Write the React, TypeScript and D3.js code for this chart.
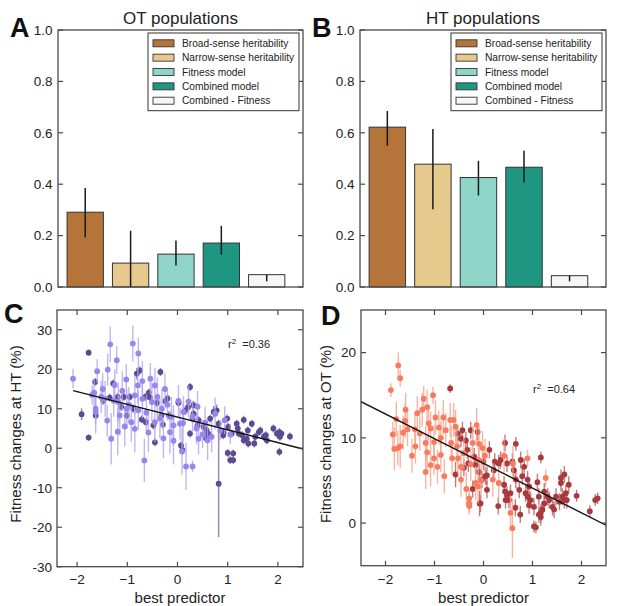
import { scaleLinear, line } from 'd3'

// bar panels (A, B)
const barLabels = ['Broad-sense heritability', 'Narrow-sense heritability', 'Fitness model', 'Combined model', 'Combined - Fitness']
const barColors = ['#b4743a', '#e6c98c', '#8fd6c8', '#1f9682', '#f6f6f6']
const barTicks = [0, 0.2, 0.4, 0.6, 0.8, 1.0]

const otValues = [0.291, 0.093, 0.128, 0.171, 0.048]
const otLow = [0.194, 0.0, 0.084, 0.126, 0.022]
const otHigh = [0.385, 0.219, 0.181, 0.238, 0.048]

const htValues = [0.622, 0.478, 0.426, 0.466, 0.044]
const htLow = [0.549, 0.303, 0.356, 0.407, 0.022]
const htHigh = [0.685, 0.615, 0.491, 0.530, 0.044]

// scatter panels (C, D): [best predictor, fitness change, error]
const cLight: [number, number, number][] = [
  [-2.08, 17.6, 2.5], [-1.60, 19.5, 3.0], [-1.66, 14.1, 3.5], [-1.63, 9.2, 5.5], [-1.63, 10.0, 4.0],
  [-1.21, 22.3, 3.5], [-1.34, 26.3, 4.5], [-1.39, 19.9, 4.0], [-1.32, 2.4, 6.5], [-1.19, 4.2, 6.0],
  [-1.02, 17.4, 4.0], [-0.89, 26.5, 4.5], [-0.78, 24.0, 4.0], [-0.79, 15.9, 4.5], [-0.85, 13.4, 5.0],
  [-1.15, 8.3, 5.0], [-0.92, 6.6, 5.0], [-1.18, 11.7, 5.0], [-1.44, 12.5, 4.5], [-1.52, 13.0, 4.0],
  [-0.66, -3.1, 5.5], [-0.85, 4.9, 6.0], [-0.54, 17.6, 4.0], [-0.28, 2.5, 5.0], [-0.31, 10.0, 5.0],
  [-0.51, 11.7, 5.0], [-0.08, 1.9, 6.0], [-0.08, 5.8, 5.0], [-0.15, 4.1, 5.5], [0.09, -0.8, 6.0],
  [-0.45, 15.9, 4.5], [-0.78, 9.6, 5.0], [-1.01, 10.0, 5.0], [-0.45, 6.6, 5.0], [0.12, 9.2, 4.0],
  [0.05, 6.2, 4.0], [0.11, 6.4, 5.0], [0.17, -4.6, 6.0], [0.30, -4.6, 1.5], [0.42, 2.4, 4.0],
  [0.75, 8.75, 4.0], [0.94, 7.1, 3.5], [0.68, 2.9, 4.0], [0.50, 3.5, 3.5], [0.60, 2.0, 5.0],
  [0.38, 5.0, 4.0], [-1.49, 15.0, 4.0], [-1.27, 12.0, 4.0], [-1.10, 14.5, 5.0], [-0.97, 11.0, 4.5],
  [-0.70, 12.5, 5.0], [-0.62, 9.0, 4.5], [-0.40, 13.0, 5.0], [-0.20, 11.0, 4.0], [-0.12, 8.0, 5.0],
  [0.22, 11.8, 4.0], [-1.40, 7.0, 4.0], [-1.05, 5.5, 5.0], [-0.58, 4.0, 5.0], [-0.35, 7.5, 5.0],
  [-1.70, 13.5, 2.5], [-0.25, 15.0, 4.0], [0.02, 12.0, 4.0], [-0.70, 17.0, 5.0], [-1.25, 16.0, 4.0],
  [0.30, 8.0, 4.0], [0.55, 6.5, 4.0], [0.85, 4.5, 2.5], [1.05, 3.5, 2.5], [0.40, 10.5, 4.0],
]
const cDark: [number, number, number][] = [
  [-1.77, 24.2, 0.8], [-1.91, 8.6, 1.5], [-1.77, 2.7, 0.8], [-1.64, 16.8, 1.0], [-1.63, 8.3, 1.0],
  [-1.28, 16.4, 1.0], [-1.19, 13.0, 1.0], [-1.07, 13.0, 1.0], [-0.95, 13.0, 1.0], [-0.81, 18.9, 1.5],
  [-0.75, 19.7, 1.0], [-1.01, 8.3, 1.0], [-0.71, 7.3, 1.0], [-0.63, 6.6, 1.0], [-0.64, 13.0, 1.0],
  [-0.57, 14.1, 1.0], [-0.45, 1.5, 1.0], [-0.34, 19.3, 1.0], [-0.41, 11.5, 1.0], [-0.24, 11.9, 1.0],
  [-0.17, 8.3, 1.0], [-0.32, 8.3, 1.0], [0.02, 11.5, 1.0], [0.07, 0.7, 1.0], [-1.35, 12.8, 1.0],
  [-0.88, 10.0, 1.0], [-0.29, 6.0, 1.0], [-0.55, 12.9, 1.0], [0.25, 15.5, 1.0], [0.02, 11.7, 1.0],
  [0.21, 10.4, 1.0], [0.32, 10.9, 1.0], [0.32, 8.75, 1.0], [0.10, -0.5, 1.0], [0.25, 3.7, 1.0],
  [0.42, 7.1, 1.0], [0.52, 5.4, 1.0], [0.58, 4.5, 1.0], [0.61, 3.7, 1.0], [0.65, 7.5, 1.0],
  [0.72, 9.2, 1.5], [0.78, 9.6, 1.5], [0.82, -9.0, 13.5], [0.82, 6.2, 1.0], [0.99, 7.5, 1.0],
  [1.01, 5.4, 1.0], [1.00, -1.2, 1.0], [1.05, -3.0, 1.0], [1.11, -1.3, 1.0], [1.11, -3.0, 1.0],
  [1.18, 6.2, 1.0], [1.08, 3.7, 1.0], [1.22, 3.7, 1.0], [1.29, 3.3, 1.0], [1.32, 7.2, 1.0],
  [1.32, 2.0, 1.0], [1.38, 2.4, 1.0], [1.41, 1.2, 1.0], [1.48, 6.2, 1.0], [1.55, 2.9, 1.0],
  [1.53, 1.2, 1.0], [1.62, 4.1, 1.0], [1.65, 4.5, 1.0], [1.72, 2.9, 1.0], [1.76, 3.3, 1.0],
  [1.78, 2.0, 1.0], [1.91, 5.0, 1.0], [1.98, 3.7, 1.0], [2.03, 4.1, 1.0], [2.07, 3.7, 1.0],
  [2.04, 2.9, 1.0], [2.03, -0.9, 1.0], [2.24, 3.0, 1.0], [0.91, 3.3, 1.0], [0.57, 2.5, 1.0],
  [0.30, 7.5, 1.0], [0.15, 9.5, 1.0], [1.20, 5.0, 1.0], [0.92, 4.0, 1.0], [-1.48, 12.0, 1.0],
  [-1.12, 10.5, 1.0], [-0.48, 5.8, 1.0], [-0.20, 12.6, 1.0], [0.40, 5.8, 1.0], [1.40, 4.5, 1.0],
]
const dLight: [number, number, number][] = [
  [-1.89, 15.6, 0.8], [-1.74, 18.5, 1.5], [-1.70, 17.0, 1.0], [-1.85, 10.4, 1.5], [-1.82, 8.7, 2.5],
  [-1.75, 8.8, 2.0], [-1.70, 9.0, 2.5], [-1.78, 12.2, 2.0], [-1.64, 10.6, 2.0], [-1.59, 13.3, 2.0],
  [-1.55, 11.0, 2.0], [-1.46, 7.9, 2.0], [-1.39, 9.0, 2.0], [-1.35, 12.9, 2.0], [-1.25, 13.3, 2.0],
  [-1.22, 14.6, 1.5], [-1.15, 13.6, 2.0], [-1.03, 15.0, 1.0], [-1.18, 9.4, 2.0], [-1.18, 6.0, 2.0],
  [-1.15, 8.3, 2.0], [-1.12, 11.7, 2.0], [-1.08, 11.1, 2.0], [-1.01, 9.5, 2.0], [-0.98, 12.4, 2.0],
  [-1.08, 6.8, 2.5], [-1.01, 7.6, 2.0], [-0.94, 6.6, 2.0], [-0.87, 8.0, 2.0], [-0.91, 11.2, 2.0],
  [-0.82, 12.4, 2.0], [-0.77, 10.9, 2.0], [-0.87, 10.0, 2.0], [-0.68, 12.1, 2.0], [-0.61, 12.1, 2.0],
  [-0.66, 9.4, 2.0], [-0.64, 7.6, 2.0], [-0.57, 11.3, 2.0], [-0.54, 9.0, 2.0], [-0.52, 7.6, 2.0],
  [-0.46, 6.6, 2.0], [-0.46, 5.1, 2.0], [-0.40, 8.2, 2.0], [-0.22, 9.4, 2.0], [-0.29, 2.9, 1.0],
  [-0.29, 2.3, 1.0], [-0.29, 2.0, 1.0], [-0.16, 4.7, 2.0], [-0.11, 4.3, 2.0], [-0.05, 5.0, 2.0],
  [-0.26, 6.9, 2.0], [-0.14, 11.5, 2.0], [-0.09, 9.3, 2.0], [-0.02, 8.8, 2.0], [0.03, 7.9, 2.0],
  [-0.10, 7.4, 1.5], [0.19, 5.1, 2.0], [0.42, 7.9, 2.0], [0.60, 7.0, 2.0], [0.90, 7.6, 1.0],
  [0.55, 1.2, 2.0], [0.59, -0.6, 3.5], [1.27, 5.3, 1.0], [0.31, 4.7, 2.0], [-1.30, 10.5, 2.0],
  [-0.80, 5.5, 2.0], [-0.35, 4.0, 2.0], [-1.60, 12.0, 2.0], [-1.40, 11.0, 2.0],
]
const dDark: [number, number, number][] = [
  [-0.68, 15.8, 0.5], [-0.53, 10.5, 1.0], [-0.46, 9.9, 1.0], [-0.43, 10.9, 1.0], [-0.36, 9.7, 1.0],
  [-0.57, 5.7, 1.5], [-0.33, 8.6, 1.0], [-0.19, 7.8, 1.0], [-0.16, 6.8, 1.0], [-0.09, 6.0, 1.0],
  [-0.31, 7.0, 1.0], [-0.08, 2.3, 1.5], [-0.12, 10.7, 1.0], [-0.26, 10.9, 1.0], [0.07, 5.6, 1.0],
  [0.12, 8.6, 1.0], [0.00, 7.2, 1.0], [0.04, 5.5, 1.0], [-0.03, 5.1, 1.0], [0.07, 3.9, 1.0],
  [0.21, 6.2, 1.0], [0.23, 7.2, 1.0], [0.31, 7.0, 1.0], [0.35, 7.4, 1.0], [0.44, 9.4, 1.0],
  [0.48, 7.0, 1.0], [0.59, 7.2, 1.0], [0.62, 6.2, 1.0], [0.76, 7.4, 1.0], [0.83, 6.6, 1.0],
  [0.42, 4.5, 1.0], [0.44, 3.7, 1.0], [0.48, 3.3, 1.0], [0.52, 2.7, 1.0], [0.45, 2.7, 1.0],
  [0.55, 3.5, 1.0], [0.65, 1.8, 1.0], [0.73, 3.9, 1.0], [0.79, 5.5, 1.0], [0.90, 5.1, 1.0],
  [0.93, 4.3, 1.0], [0.90, 3.1, 1.0], [0.96, 2.7, 1.0], [0.93, 2.1, 1.0], [1.03, 1.9, 1.0],
  [1.10, 4.8, 1.0], [1.13, 1.0, 1.0], [1.17, 1.2, 1.0], [1.20, 1.6, 1.0], [1.24, 2.3, 1.0],
  [1.24, 3.7, 1.0], [1.17, 7.7, 0.7], [1.31, 3.1, 1.0], [1.34, 2.7, 1.0], [1.41, 1.9, 1.0],
  [1.44, 1.6, 1.0], [1.48, 3.1, 1.0], [1.58, 5.3, 1.0], [1.58, 4.7, 1.0], [1.65, 5.7, 1.0],
  [1.61, 3.1, 1.0], [1.65, 2.7, 1.0], [1.70, 2.7, 1.0], [1.74, 4.5, 1.0], [1.68, 3.5, 1.0],
  [1.55, 2.5, 1.0], [1.90, 3.2, 0.7], [2.17, 1.4, 0.7], [2.28, 2.7, 0.7], [2.33, 2.9, 0.7],
  [1.03, -0.4, 0.7], [1.07, -0.5, 0.7], [1.17, 0.7, 1.0], [1.13, 3.1, 1.0], [0.86, 3.5, 1.0],
  [0.66, 5.1, 1.0], [-0.06, 2.3, 1.0], [0.66, 9.3, 0.8], [-0.40, 6.5, 1.0], [-0.22, 4.0, 1.0],
  [0.30, 2.0, 1.0], [0.75, 1.0, 1.0],
]

// regression lines: [slope, intercept] and x extent
const cFit = [-3.23, 7.88]
const cFitRange = [-2.08, 2.5]
const dFit = [-2.9, 7.0]
const dFitRange = [-2.5, 2.5]

const scatterXTicks = [-2, -1, 0, 1, 2]
const cYTicks = [-30, -20, -10, 0, 10, 20, 30]
const dYTicks = [0, 10, 20]

const FONT = "'Liberation Sans', Arial, Helvetica, sans-serif"
const FRAME = '#4a4a4a'
const TXT = '#222'

interface BarProps {
  left: number
  right: number
  title: string
  letter: string
  values: number[]
  low: number[]
  high: number[]
}

const BarPanel = (props: BarProps) => {
  const { left, right, title, letter, values, low, high } = props
  const top = 30
  const bottom = 287
  const x = scaleLinear().domain([-0.2, 5.2]).range([left, right])
  const y = scaleLinear().domain([0, 1]).range([bottom, top])
  const legW = 151
  const legL = right - 4 - legW
  const legT = 33
  const rowY = (i: number) => legT + 10.3 + i * 14.35

  return (
    <g>
      {values.map((v, i) => (
        <rect key={'b' + i} x={x(i)} width={x(i + 0.8) - x(i)} y={y(v)} height={y(0) - y(v)}
          fill={barColors[i]} stroke="#333" strokeWidth={1} />
      ))}
      {values.map((_, i) => (
        <line key={'e' + i} x1={x(i + 0.4)} x2={x(i + 0.4)} y1={y(low[i])} y2={y(high[i])}
          stroke="#1a1a1a" strokeWidth={1.5} />
      ))}
      <rect x={left} y={top} width={right - left} height={bottom - top} fill="none" stroke={FRAME} strokeWidth={1.3} />
      {barTicks.map(t => (
        <g key={t}>
          <line x1={left} x2={left + 5} y1={y(t)} y2={y(t)} stroke={FRAME} strokeWidth={1.2} />
          <line x1={right - 5} x2={right} y1={y(t)} y2={y(t)} stroke={FRAME} strokeWidth={1.2} />
          <text x={left - 5.5} y={y(t)} dy="0.36em" textAnchor="end" fontSize={13.5} fill={TXT}>{t.toFixed(1)}</text>
        </g>
      ))}
      <text x={(left + right) / 2} y={24} textAnchor="middle" fontSize={17} fill={TXT}>{title}</text>
      <text x={left - 48} y={37} fontSize={27} fontWeight={900} fill="#111">{letter}</text>
      <rect x={legL} y={legT} width={legW} height={77.7} fill="#fff" stroke="#333" strokeWidth={1} />
      {barLabels.map((lab, i) => (
        <g key={lab}>
          <rect x={legL + 5} y={rowY(i) - 3.5} width={21} height={7} fill={barColors[i]} stroke="#333" strokeWidth={0.9} />
          <text x={legL + 34} y={rowY(i)} dy="0.35em" fontSize={10.2} fill={TXT}>{lab}</text>
        </g>
      ))}
    </g>
  )
}

interface ScatterProps {
  id: string
  left: number
  right: number
  top: number
  bottom: number
  xDomain: number[]
  yDomain: number[]
  yTicks: number[]
  light: [number, number, number][]
  dark: [number, number, number][]
  colors: string[]
  fit: number[]
  fitRange: number[]
  r2: string
  r2x: number
  r2y: number
  letter: string
  letterX: number
  letterY: number
  ylabel: string
  ylabelX: number
}

const ScatterPanel = (props: ScatterProps) => {
  const { id, left, right, top, bottom, xDomain, yDomain, yTicks, light, dark, colors, fit, fitRange } = props
  const x = scaleLinear().domain(xDomain).range([left, right])
  const y = scaleLinear().domain(yDomain).range([bottom, top])
  const fitLine = line<number>()
    .x(d => x(d))
    .y(d => y(fit[0] * d + fit[1]))
  const [lightDot, lightErr, darkDot, darkErr] = colors

  return (
    <g>
      <defs>
        <clipPath id={id}>
          <rect x={left} y={top} width={right - left} height={bottom - top} />
        </clipPath>
      </defs>
      <g clipPath={`url(#${id})`}>
        {dark.map((p, i) => (
          <line key={'de' + i} x1={x(p[0])} x2={x(p[0])} y1={y(p[1] - p[2])} y2={y(p[1] + p[2])}
            stroke={darkErr} strokeWidth={1.4} strokeOpacity={0.85} />
        ))}
        {dark.map((p, i) => (
          <circle key={'d' + i} cx={x(p[0])} cy={y(p[1])} r={2.9} fill={darkDot} />
        ))}
        {light.map((p, i) => (
          <line key={'le' + i} x1={x(p[0])} x2={x(p[0])} y1={y(p[1] - p[2])} y2={y(p[1] + p[2])}
            stroke={lightErr} strokeWidth={1.4} strokeOpacity={0.8} />
        ))}
        {light.map((p, i) => (
          <circle key={'l' + i} cx={x(p[0])} cy={y(p[1])} r={2.9} fill={lightDot} />
        ))}
        <path d={fitLine(fitRange) || ''} fill="none" stroke="#111" strokeWidth={1.4} />
      </g>
      <rect x={left} y={top} width={right - left} height={bottom - top} fill="none" stroke={FRAME} strokeWidth={1.3} />
      {scatterXTicks.map(t => (
        <g key={'x' + t}>
          <line x1={x(t)} x2={x(t)} y1={bottom} y2={bottom - 5} stroke={FRAME} strokeWidth={1.2} />
          <line x1={x(t)} x2={x(t)} y1={top} y2={top + 5} stroke={FRAME} strokeWidth={1.2} />
          <text x={x(t)} y={584} textAnchor="middle" fontSize={13.5} fill={TXT}>
            {t < 0 ? '\u2212' + Math.abs(t) : String(t)}
          </text>
        </g>
      ))}
      {yTicks.map(t => (
        <g key={'y' + t}>
          <line x1={left} x2={left + 5} y1={y(t)} y2={y(t)} stroke={FRAME} strokeWidth={1.2} />
          <line x1={right - 5} x2={right} y1={y(t)} y2={y(t)} stroke={FRAME} strokeWidth={1.2} />
          <text x={left - 5} y={y(t)} dy="0.36em" textAnchor="end" fontSize={13.5} fill={TXT}>{String(t)}</text>
        </g>
      ))}
      <text x={props.r2x} y={props.r2y} fontSize={11} fill={TXT}>
        r<tspan dy={-4.5} fontSize={8}>2</tspan><tspan dy={4.5}>{'\u00a0\u00a0=' + props.r2}</tspan>
      </text>
      <text x={(left + right) / 2} y={603} textAnchor="middle" fontSize={15} fill={TXT}>best predictor</text>
      <text transform={`translate(${props.ylabelX}, 434) rotate(-90)`} textAnchor="middle" fontSize={15} fill={TXT}>
        {props.ylabel}
      </text>
      <text x={props.letterX} y={props.letterY} fontSize={27} fontWeight={900} fill="#111">{props.letter}</text>
    </g>
  )
}

const App = () => {
  return (
    <svg width={617} height={606} style={{ position: 'absolute', left: 0, top: 0, background: '#fff' }}
      fontFamily={FONT}>
      <BarPanel left={58} right={303} title="OT populations" letter="A"
        values={otValues} low={otLow} high={otHigh} />
      <BarPanel left={360} right={606} title="HT populations" letter="B"
        values={htValues} low={htLow} high={htHigh} />
      <ScatterPanel id="clipC" left={57} right={303} top={310} bottom={566.7}
        xDomain={[-2.4, 2.5]} yDomain={[-30, 35]} yTicks={cYTicks}
        light={cLight} dark={cDark} colors={['#9886ec', '#b0a4f0', '#5a4c92', '#7d71b0']}
        fit={cFit} fitRange={cFitRange} r2="0.36" r2x={228} r2y={348}
        letter="C" letterX={4} letterY={323} ylabel="Fitness changes at HT (%)" ylabelX={21} />
      <ScatterPanel id="clipD" left={361} right={606} top={310} bottom={565.7}
        xDomain={[-2.5, 2.5]} yDomain={[-5, 25]} yTicks={dYTicks}
        light={dLight} dark={dDark} colors={['#f97b5d', '#f7a08a', '#a83a3e', '#bd6467']}
        fit={dFit} fitRange={dFitRange} r2="0.64" r2x={533} r2y={393}
        letter="D" letterX={321} letterY={325} ylabel="Fitness changes at OT (%)" ylabelX={331} />
    </svg>
  )
}

export default App
